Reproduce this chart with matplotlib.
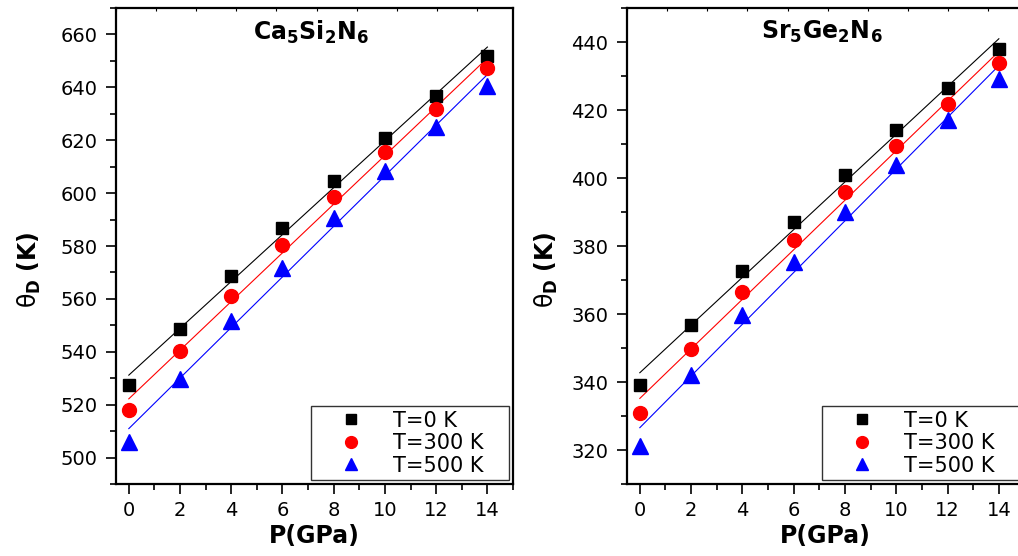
import numpy as np
import matplotlib
matplotlib.use("Agg")
import matplotlib.pyplot as plt
from matplotlib.ticker import MultipleLocator

plt.rcParams['font.family'] = ['DejaVu Sans']
plt.rcParams['mathtext.fontset'] = 'dejavusans'

pressure = [0, 2, 4, 6, 8, 10, 12, 14]
temps = ["T=0 K", "T=300 K", "T=500 K"]

ca_T0 = [527.3, 548.7, 568.6, 586.7, 604.4, 621.0, 636.9, 652.0]
ca_T300 = [517.8, 540.3, 561.2, 580.4, 598.5, 615.6, 631.8, 647.4]
ca_T500 = [505.8, 529.8, 551.6, 571.8, 590.5, 608.2, 625.0, 640.4]

sr_T0 = [339.0, 356.7, 372.6, 387.2, 400.9, 414.0, 426.4, 437.9]
sr_T300 = [330.8, 349.6, 366.5, 381.8, 395.9, 409.3, 421.9, 433.7]
sr_T500 = [321.3, 342.0, 359.6, 375.4, 390.1, 403.9, 417.0, 429.2]

colors = ["black", "red", "blue"]
markers = ["s", "o", "^"]
msizes = [9, 10, 11]

W, H = 1018, 556
fig = plt.figure(figsize=(W / 100, H / 100), dpi=100)

def make_panel(rect, series, ylim, ymaj, title):
    ax = fig.add_axes(rect)
    p = np.array(pressure, dtype=float)
    for vals, c, m, ms, lab in zip(series, colors, markers, msizes, temps):
        v = np.array(vals)
        k, b = np.polyfit(p, v, 1)
        ax.plot([p[0], p[-1]], [b + k * p[0], b + k * p[-1]], color=c, lw=0.8, zorder=2)
        ax.plot(p, v, ls='none', marker=m, color=c, ms=ms, label=lab, zorder=3)
    ax.set_xlim(-0.5, 15)
    ax.set_ylim(*ylim)
    ax.xaxis.set_major_locator(MultipleLocator(2))
    ax.xaxis.set_minor_locator(MultipleLocator(1))
    ax.yaxis.set_major_locator(MultipleLocator(ymaj))
    ax.yaxis.set_minor_locator(MultipleLocator(ymaj / 2))
    ax.tick_params(which='major', direction='out', length=7, width=1.2, labelsize=14, pad=5)
    ax.tick_params(axis='y', which='major', pad=6.5)
    ax.tick_params(which='minor', direction='out', length=4, width=1.2)
    for s in ax.spines.values():
        s.set_linewidth(1.6)
    ax.set_xlabel('P(GPa)', fontsize=17, fontweight='bold', labelpad=3)
    ax.set_ylabel(r'$\mathrm{\theta}_\mathbf{D}\ \mathbf{(K)}$', fontsize=17)
    ax.text(0.49, 0.977, title, transform=ax.transAxes, ha='center', va='top', fontsize=17)
    leg = ax.legend(loc='lower left', bbox_to_anchor=(0.491, 0.008, 0.499, 0.18), mode='expand',
                    fontsize=15, frameon=True, fancybox=False, edgecolor='black',
                    handlelength=3.4, handletextpad=0.3, borderpad=0.22, labelspacing=0.12,
                    borderaxespad=0, markerscale=0.85)
    leg.get_frame().set_linewidth(1.0)
    # top inward ticks
    ax2 = ax.twiny()
    ax2.set_xlim(0, 9.9)
    ax2.xaxis.set_major_locator(MultipleLocator(1))
    ax2.tick_params(axis='x', direction='in', length=2.5, width=0.8, labeltop=False, top=True)
    ax2.set_xticklabels([])
    for s in ax2.spines.values():
        s.set_visible(False)
    return ax

ax_l = make_panel([116 / W, 1 - 484 / H, 397 / W, 476 / H],
                  [ca_T0, ca_T300, ca_T500], (490, 670), 20, r'$\mathbf{Ca_5Si_2N_6}$')
ax_r = make_panel([627 / W, 1 - 484 / H, 397.5 / W, 476 / H],
                  [sr_T0, sr_T300, sr_T500], (310, 450), 20, r'$\mathbf{Sr_5Ge_2N_6}$')
ax_l.yaxis.set_label_coords(-0.184, 0.45)
ax_r.yaxis.set_label_coords(-0.169, 0.45)

fig.savefig("out.png", dpi=100)
